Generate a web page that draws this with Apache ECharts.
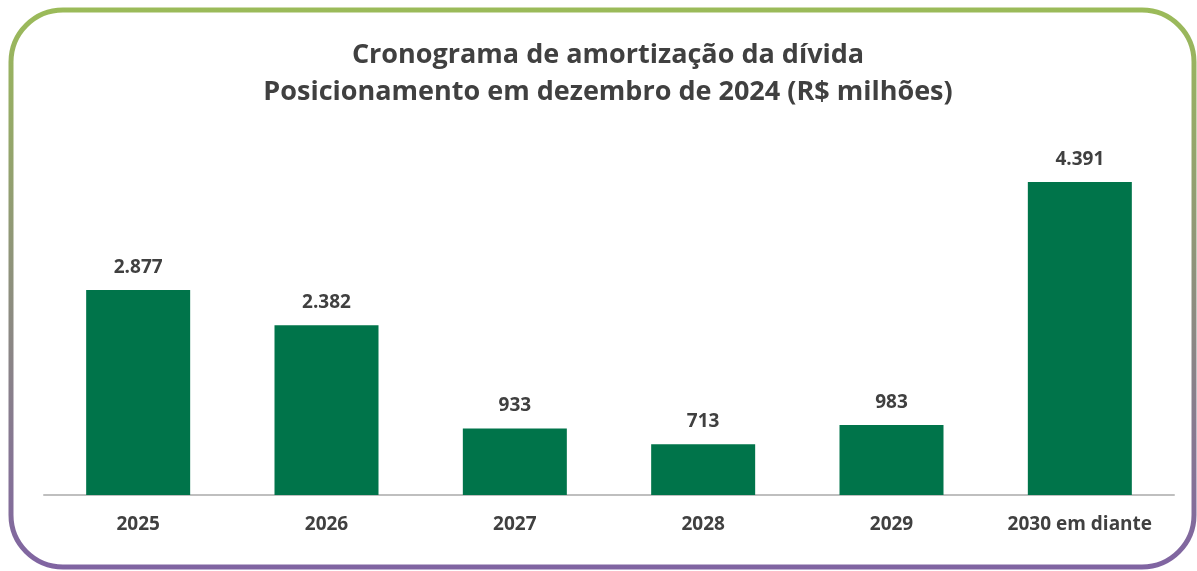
<!DOCTYPE html>
<html><head><meta charset="utf-8">
<script src="https://cdn.jsdelivr.net/npm/echarts@6/dist/echarts.min.js"></script>
<style>html,body{margin:0;padding:0;background:#fff}#c{width:1197px;height:571px}</style>
</head><body><div id="c"></div>
<script>
const categories = ['2025','2026','2027','2028','2029','2030 em diante'];
const values = [2877, 2382, 933, 713, 983, 4391];
const titleLines = ['Cronograma de amortização da dívida','Posicionamento em dezembro de 2024 (R$ milhões)'];

const fmt = v => String(v).replace(/\B(?=(\d{3})+(?!\d))/g, '.');
const chart = echarts.init(document.getElementById('c'));
chart.setOption({
  animation:false,
  backgroundColor:'#fff',
  title:{
    text: titleLines.join('\n'),
    left:603, textAlign:'center', top:32,
    textStyle:{fontFamily:'Open Sans', fontWeight:'bold', fontSize:27, color:'#404040', lineHeight:37}
  },
  graphic:[{
    type:'rect', z:-1,
    shape:{x:11, y:10, width:1183, height:557, r:52},
    style:{fill:'none', lineWidth:5, stroke:{type:'linear', x:0, y:0, x2:0, y2:1, colorStops:[{offset:0,color:'#9BBB59'},{offset:1,color:'#8064A2'}]}}
  }],
  grid:{left:44, right:23, top:138.6, bottom:76},
  xAxis:{
    type:'category', data:categories,
    axisLine:{lineStyle:{color:'#BFBFBF', width:2}},
    axisTick:{show:false},
    axisLabel:{fontFamily:'Open Sans', fontWeight:'bold', fontSize:19, color:'#404040', margin:20}
  },
  yAxis:{type:'value', min:0, max:5000, show:false, splitLine:{show:false}},
  series:[{
    type:'bar', data:values, barWidth:104,
    itemStyle:{color:'#00744A'},
    label:{show:true, position:'top', distance:13, formatter:p=>fmt(p.value),
      fontFamily:'Open Sans', fontWeight:'bold', fontSize:19, color:'#404040'}
  }]
});
</script></body></html>
